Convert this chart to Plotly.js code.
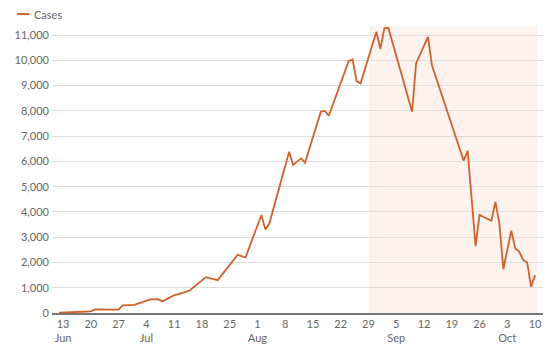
<!DOCTYPE html>
<html>
<head>
<meta charset="utf-8">
<script src="https://cdn.plot.ly/plotly-3.0.1.min.js"></script>
<style>
html,body{margin:0;padding:0;background:#fff;}
#chart{width:559px;height:354px;}
</style>
</head>
<body>
<div id="chart"></div>
<script>
var dates = [
  '2021-06-12','2021-06-13','2021-06-16','2021-06-20','2021-06-21','2021-06-27','2021-06-28',
  '2021-07-01','2021-07-05','2021-07-07','2021-07-08','2021-07-11','2021-07-14','2021-07-15',
  '2021-07-19','2021-07-22','2021-07-27','2021-07-29','2021-08-02','2021-08-03','2021-08-04',
  '2021-08-09','2021-08-10','2021-08-12','2021-08-13','2021-08-17','2021-08-18','2021-08-19',
  '2021-08-24','2021-08-25','2021-08-26','2021-08-27','2021-08-31','2021-09-01','2021-09-02',
  '2021-09-03','2021-09-09','2021-09-10','2021-09-13','2021-09-14','2021-09-22','2021-09-23',
  '2021-09-25','2021-09-26','2021-09-29','2021-09-30','2021-10-01','2021-10-02','2021-10-04',
  '2021-10-05','2021-10-06','2021-10-07','2021-10-08','2021-10-09','2021-10-10'
];
var cases = [
  10,15,30,60,140,130,300,
  320,540,550,460,700,840,900,
  1420,1300,2300,2200,3880,3310,3540,
  6380,5860,6120,5950,7970,8000,7810,
  9970,10040,9180,9090,11130,10450,11270,
  11290,7970,9880,10930,9810,6030,6420,
  2650,3880,3650,4400,3550,1730,3260,
  2560,2430,2100,2000,1040,1500
];
var seriesName = 'Cases';
var xTickVals = ['2021-06-13','2021-06-20','2021-06-27','2021-07-04','2021-07-11','2021-07-18',
  '2021-07-25','2021-08-01','2021-08-08','2021-08-15','2021-08-22','2021-08-29','2021-09-05',
  '2021-09-12','2021-09-19','2021-09-26','2021-10-03','2021-10-10'];
var xTickText = ['13<br>Jun','20','27','4<br>Jul','11','18','25','1<br>Aug','8','15','22','29',
  '5<br>Sep','12','19','26','3<br>Oct','10'];
var yTickVals = [0,1000,2000,3000,4000,5000,6000,7000,8000,9000,10000,11000];

var lineColor = '#d0612b';
var font = 'Lato, "Source Sans Pro", "Open Sans", sans-serif';

var trace = {
  x: dates, y: cases, type: 'scatter', mode: 'lines', name: seriesName,
  line: {color: lineColor, width: 1.8}, hoverinfo: 'x+y', showlegend: false
};

var layout = {
  width: 559, height: 354,
  margin: {l: 52, r: 16, t: 25, b: 41},
  paper_bgcolor: '#fff', plot_bgcolor: '#fff',
  font: {family: font, size: 11, color: '#666'},
  xaxis: {
    type: 'date', range: ['2021-06-10 05:00', '2021-10-12'],
    tickmode: 'array', tickvals: xTickVals, ticktext: xTickText,
    showgrid: false, zeroline: false, showline: true, linecolor: '#777', linewidth: 1.5,
    ticks: '', tickfont: {size: 11, color: '#666', family: font}
  },
  yaxis: {
    range: [0, 11400], tickmode: 'array', tickvals: yTickVals,
    tickformat: ',d', showgrid: true, gridcolor: '#dedede', gridwidth: 1,
    zeroline: false, showline: false, ticks: '', ticklabelstandoff: 2,
    tickfont: {size: 11, color: '#666', family: font}
  },
  separators: '.,',
  shapes: [
    {type: 'rect', xref: 'x', yref: 'paper', x0: '2021-08-29 06:00', x1: '2021-10-10 12:00',
     y0: 0, y1: 0.995, fillcolor: '#fef2ee', line: {width: 0}, layer: 'below'},
    {type: 'line', xref: 'paper', yref: 'paper', x0: -0.071, x1: -0.046, y0: 1.038, y1: 1.038,
     line: {color: lineColor, width: 2}}
  ],
  annotations: [
    {xref: 'paper', yref: 'paper', x: -0.04, y: 1.038, xanchor: 'left', yanchor: 'middle',
     text: seriesName, showarrow: false, font: {size: 11, color: '#666', family: font}}
  ]
};

Plotly.newPlot('chart', [trace], layout, {displayModeBar: false, staticPlot: true});
</script>
</body>
</html>
